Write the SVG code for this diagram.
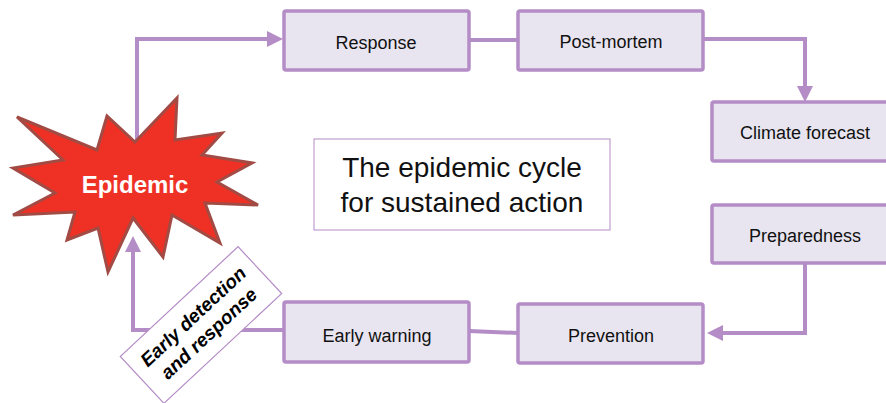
<svg xmlns="http://www.w3.org/2000/svg" width="886" height="403" viewBox="0 0 886 403">
<style>
.box{fill:#E8E5F0;stroke:#B48CC6;stroke-width:3.5}
.lbl{font-family:"Liberation Sans",Arial,sans-serif;font-size:18px;fill:#111;text-anchor:middle}
.con{fill:none;stroke:#B48CC6;stroke-width:4}
</style>
<defs>
<marker id="arr" viewBox="0 0 16 16" refX="8" refY="8" markerWidth="16" markerHeight="16" orient="auto" markerUnits="userSpaceOnUse">
<path d="M0,0 L16,8 L0,16 z" fill="#B48CC6"/>
</marker>
</defs>
<rect width="886" height="403" fill="#fff"/>
<g id="connectors">
<path class="con" d="M137,142 V39 H275" marker-end="url(#arr)"/>
<path class="con" d="M469,40 H518"/>
<path class="con" d="M703,39 H805 V94" marker-end="url(#arr)"/>
<path class="con" d="M805,263 V333 H715" marker-end="url(#arr)"/>
<path class="con" d="M518,333 L469,331"/>
<path class="con" d="M283,330 H133 V244" marker-end="url(#arr)"/>
</g>
<g id="title">
<rect x="314" y="139" width="296" height="91" fill="#fff" stroke="#B48CC6" stroke-width="1"/>
<text x="462" y="177" font-family="'Liberation Sans',Arial,sans-serif" font-size="28" fill="#111" text-anchor="middle">The epidemic cycle</text>
<text x="462" y="212" font-family="'Liberation Sans',Arial,sans-serif" font-size="28" fill="#111" text-anchor="middle">for sustained action</text>
</g>
<g id="response">
<rect class="box" x="284" y="11" width="185" height="59" rx="2"/>
<text class="lbl" x="376" y="49">Response</text>
</g>
<g id="post-mortem">
<rect class="box" x="518" y="11" width="185" height="59" rx="2"/>
<text class="lbl" x="611" y="48">Post-mortem</text>
</g>
<g id="climate-forecast">
<rect class="box" x="712" y="102" width="186" height="59" rx="2"/>
<text class="lbl" x="805" y="139">Climate forecast</text>
</g>
<g id="preparedness">
<rect class="box" x="712" y="205" width="186" height="58" rx="2"/>
<text class="lbl" x="805" y="242">Preparedness</text>
</g>
<g id="prevention">
<rect class="box" x="518" y="304" width="185" height="59" rx="2"/>
<text class="lbl" x="611" y="342">Prevention</text>
</g>
<g id="early-warning">
<rect class="box" x="284" y="302" width="185" height="60" rx="2"/>
<text class="lbl" x="377" y="342">Early warning</text>
</g>
<g id="early-detection">
<g transform="translate(201,325) rotate(-43)">
<rect x="-80.5" y="-32" width="161" height="64" fill="#fff" stroke="#B48CC6" stroke-width="1.2"/>
<text x="0" y="-5" font-family="'Liberation Sans',Arial,sans-serif" font-size="19" font-weight="bold" font-style="italic" fill="#000" text-anchor="middle">Early detection</text>
<text x="0" y="18" font-family="'Liberation Sans',Arial,sans-serif" font-size="19" font-weight="bold" font-style="italic" fill="#000" text-anchor="middle">and response</text>
</g>
</g>
<g id="epidemic">
<polygon points="17,117 97,150 107,116 135,142 177,98 175,140 222,133 202,155 252,163 217,182 258,205 205,203 220,243 172,215 163,257 133,218 108,272 98,228 67,240 75,212 13,215 55,193 13,168 63,160" fill="#EE3124" stroke="#A24B45" stroke-width="3" stroke-linejoin="miter"/>
<text x="135" y="193" font-family="'Liberation Sans',Arial,sans-serif" font-size="24" font-weight="bold" fill="#fff" text-anchor="middle">Epidemic</text>
</g>
</svg>
